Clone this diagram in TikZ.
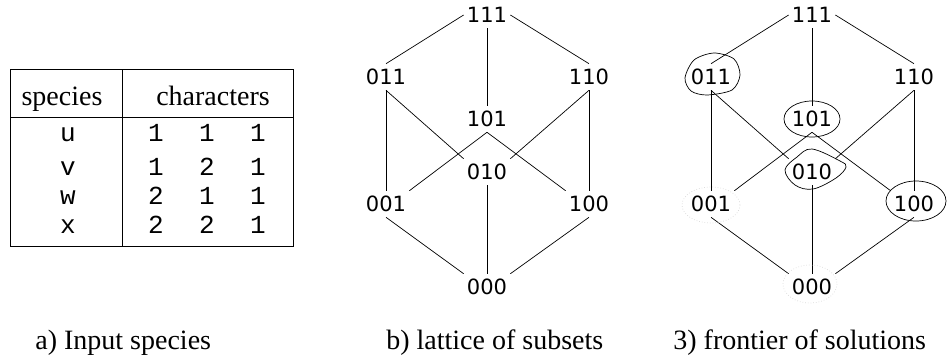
\documentclass[tikz,border=0pt]{standalone}
\usepackage{fontspec}
\setmainfont{Liberation Serif}
\setmonofont{Liberation Mono}
\newfontfamily\bitfont{DejaVu Sans}
\usepackage{tikz}

\tikzset{
  bits/.style={font=\bitfont\fontsize{21}{21}\selectfont, inner xsep=3pt, inner ysep=5pt},
  head/.style={font=\fontsize{28}{28}\selectfont, anchor=base, inner sep=0pt},
  entry/.style={font=\ttfamily\fontsize{26}{26}\selectfont, anchor=base, inner sep=0pt},
  subcap/.style={font=\fontsize{28}{28}\selectfont, anchor=base west, inner sep=0pt},
  frontier/.style={line width=0.7pt},
  ghost/.style={gray!30, dotted, line width=0.7pt}
}

\begin{document}
\begin{tikzpicture}[x=1pt,y=-1pt,line width=0.7pt]
  \useasboundingbox (0,0) rectangle (950,356);
  % table of species
  \draw (10,69) rectangle (293,246);
  \draw (10,117) -- (293,117);
  \draw (122,69) -- (122,246);
  \node[head] (hspec) at (62,105) {species};
  \node[head] (hchar) at (213,105) {characters};
  \foreach \s/\a/\b/\c/\y in {u/1/1/1/141, v/1/2/1/175, w/2/1/1/204, x/2/2/1/233} {
    \node[entry] (\s-0) at (68,\y) {\s};
    \node[entry] (\s-1) at (156,\y) {\a};
    \node[entry] (\s-2) at (207,\y) {\b};
    \node[entry] (\s-3) at (258,\y) {\c};
  }
  % the two lattices
  \foreach \p/\dx in {b/0,c/325} {
    \begin{scope}[xshift=\dx pt]
      \node[bits] (\p111) at (487,15) {111};
      \node[bits] (\p011) at (386,77) {011};
      \node[bits] (\p110) at (589,77) {110};
      \node[bits] (\p101) at (487,119) {101};
      \node[bits] (\p010) at (487,172) {010};
      \node[bits] (\p001) at (386,204) {001};
      \node[bits] (\p100) at (589,204) {100};
      \node[bits] (\p000) at (487,287) {000};
    \end{scope}
    \foreach \u/\v in {111.west/011.north, 111.south/101.north, 111.east/110.north,
                       011.south/001.north, 011.south/010.north west,
                       110.south/010.north east, 110.south/100.north,
                       101.south/001.north east, 101.south/100.north west,
                       001.south/000.north west, 010.south/000.north,
                       100.south/000.north east}
      \draw (\p\u) -- (\p\v);
  }
  % frontier of solutions
  \begin{scope}[shift={(c011.center)}]
    \draw[frontier] plot[smooth cycle] coordinates {(-26,1) (-17,-17) (3,-24) (23,-18) (29,-2) (21,13) (-4,18) (-20,14)};
  \end{scope}
  \draw[frontier] (c101.center) ellipse [x radius=28, y radius=18];
  \begin{scope}[shift={(c010.center)}]
    \draw[frontier] plot[smooth cycle, tension=0.6] coordinates {(0,-23) (28,-11) (34,-5) (24,6) (1,17) (-17,13) (-27,-2) (-15,-15)};
  \end{scope}
  \draw[frontier] ([shift={(2,-3)}]c100.center) ellipse [x radius=30, y radius=20];
  \draw[ghost] ([shift={(0,1)}]c001.center) ellipse [x radius=29, y radius=18];
  \draw[ghost] ([shift={(-2,-3)}]c000.center) ellipse [x radius=27, y radius=19];
  % captions
  \node[subcap] (capa) at (35,349) {a) Input species};
  \node[subcap] (capb) at (386,349) {b) lattice of subsets};
  \node[subcap] (capc) at (673,349) {3) frontier of solutions};
\end{tikzpicture}
\end{document}
